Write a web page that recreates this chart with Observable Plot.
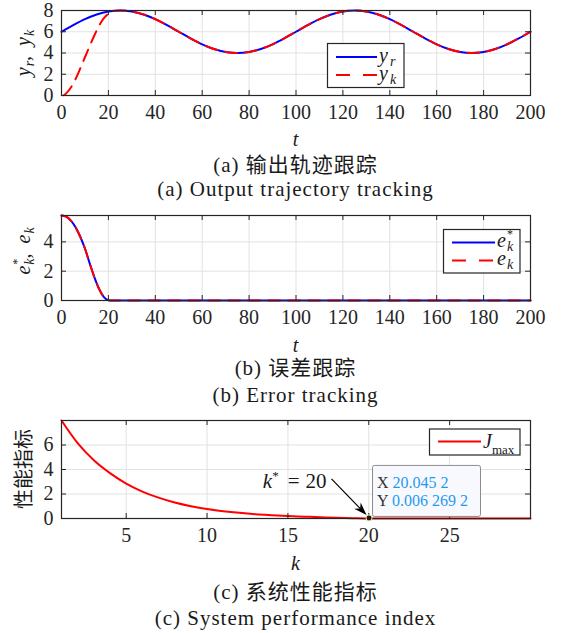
<!DOCTYPE html>
<html><head><meta charset="utf-8">
<script src="https://cdn.jsdelivr.net/npm/d3@7"></script>
<script src="https://cdn.jsdelivr.net/npm/@observablehq/plot@0.6"></script>
<style>
body{margin:0;background:#fff;}
#root{position:relative;width:562px;height:633px;overflow:hidden;}
.panel{position:absolute;left:0;}
.cap{position:absolute;left:0;width:591px;text-align:center;font-size:21px;line-height:20px;letter-spacing:1px;color:#1a1a1a;font-family:"Liberation Serif","Noto Sans CJK SC",serif;white-space:nowrap;}
</style></head><body><div id="root"></div>
<script>
// ---------- data ----------
const tRef = [0,5,10,15,20,25,30,35,40,45,50,55,60,65,70,75,80,85,90,95,100,105,110,115,120,125,130,135,140,145,150,155,160,165,170,175,180,185,190,195,200];
const yRef = [6,6.62,7.18,7.62,7.9,8,7.9,7.62,7.18,6.62,6,5.38,4.82,4.38,4.1,4,4.1,4.38,4.82,5.38,6,6.62,7.18,7.62,7.9,8,7.9,7.62,7.18,6.62,6,5.38,4.82,4.38,4.1,4,4.1,4.38,4.82,5.38,6];
const tOut = [1,2,4,6,8,10,12,14,16,18,20,22,25,30,35,40,45,50,55,60,65,70,75,80,85,90,95,100,105,110,115,120,125,130,135,140,145,150,155,160,165,170,175,180,185,190,195,200];
const yOut = [0.02,0.2,0.75,1.55,2.55,3.6,4.65,5.65,6.55,7.25,7.7,7.92,8,7.9,7.62,7.18,6.62,6,5.38,4.82,4.38,4.1,4,4.1,4.38,4.82,5.38,6,6.62,7.18,7.62,7.9,8,7.9,7.62,7.18,6.62,6,5.38,4.82,4.38,4.1,4,4.1,4.38,4.82,5.38,6];
const tErr = [0,2,4,6,8,10,12,14,16,18,20,22,25,50,75,100,125,150,175,200];
const eStar = [5.8,5.72,5.45,5.0,4.35,3.55,2.55,1.6,0.8,0.25,0.02,0,0,0,0,0,0,0,0,0];
const eK = [5.8,5.72,5.45,5.0,4.35,3.55,2.55,1.6,0.8,0.25,0.02,0,0,0,0,0,0,0,0,0];
const kIter = [1,2,3,4,5,6,7,8,9,10,11,12,13,14,15,16,17,18,19,20,21,22,23,24,25,26,27,28,29,30];
const jMax = [8,6.15,4.75,3.7,2.85,2.2,1.7,1.3,1.0,0.78,0.6,0.46,0.35,0.27,0.2,0.15,0.1,0.06,0.03,0.0063,0.005,0.004,0.0035,0.003,0.0025,0.002,0.002,0.0015,0.0015,0.001];
const tipX = 20.0452, tipY = 0.0062692;
const tipLabels = ["20.045 2", "0.006 269 2"];
const xTicksT = [0,20,40,60,80,100,120,140,160,180,200];
const yTicksA = [0,2,4,6,8];
const yTicksB = [0,2,4];
const xTicksK = [5,10,15,20,25];
const yTicksC = [0,2,4,6];
const capA = ["(a) 输出轨迹跟踪", "(a) Output trajectory tracking"];
const capB = ["(b) 误差跟踪", "(b) Error tracking"];
const capC = ["(c) 系统性能指标", "(c) System performance index"];

// ---------- helpers ----------
const NS = "http://www.w3.org/2000/svg";
function mk(tag, attrs, parent){ const e=document.createElementNS(NS,tag); for(const k in attrs) e.setAttribute(k,attrs[k]); if(parent) parent.appendChild(e); return e; }
function math(parent, x, y, parts, {size=20, anchor="start", rotate=0, fill="#1a1a1a", fam="Liberation Serif, serif"}={}) {
  const t = mk("text", {x:0, y:0, "text-anchor":anchor, "font-size":size, "font-family":fam, fill, transform:`translate(${x},${y}) rotate(${rotate})`}, parent);
  for (const p of parts) {
    const s = mk("tspan", {}, t);
    if (p.i) s.setAttribute("font-style","italic");
    if (p.fs) s.setAttribute("font-size", p.fs);
    if (p.dy) s.setAttribute("dy", p.dy);
    if (p.dx) s.setAttribute("dx", p.dx);
    if (p.fill) s.setAttribute("fill", p.fill);
    if (p.fam) s.setAttribute("font-family", p.fam);
    s.textContent = p.t;
  }
  return t;
}
const W = 562, ML = 61, MR = 32, FW = W - ML - MR;
const root = document.getElementById("root");
const INK = "#262626";

function panel({top, plotH, height, xDomain, yDomain, xTicks, yTicks, marks, overlay}) {
  const mt = 10;
  const fig = Plot.plot({
    width: W, height, marginLeft: ML, marginRight: MR, marginTop: mt, marginBottom: height - mt - plotH,
    style: {fontFamily: "Liberation Serif, serif", fontSize: "20px", color: INK, background: "transparent", overflow: "visible"},
    x: {domain: xDomain, ticks: xTicks, tickSize: 0, tickPadding: 9, label: null, tickFormat: d => String(d)},
    y: {domain: yDomain, ticks: yTicks, tickSize: 0, tickPadding: 8, label: null, tickFormat: d => String(d)},
    marks: [
      Plot.ruleX(xTicks, {stroke: "#e2e2e2", strokeWidth: 1}),
      Plot.ruleY(yTicks, {stroke: "#e2e2e2", strokeWidth: 1}),
      ...marks,
      Plot.ruleX(xTicks, {stroke: INK, insetBottom: plotH - 5}),
      Plot.ruleX(xTicks, {stroke: INK, insetTop: plotH - 5}),
      Plot.ruleY(yTicks, {stroke: INK, insetRight: FW - 5}),
      Plot.ruleY(yTicks, {stroke: INK, insetLeft: FW - 5}),
      Plot.frame({stroke: INK, strokeWidth: 1.2}),
      (index, scales, values, dims) => { const g = mk("g", {}); overlay(g, scales, dims); return g; }
    ]
  });
  fig.classList.add("panel");
  fig.style.top = top + "px";
  root.appendChild(fig);
}
function caption(lines, tops) {
  lines.forEach((s, i) => {
    const d = document.createElement("div");
    d.className = "cap"; d.style.top = tops[i] + "px"; d.textContent = s;
    root.appendChild(d);
  });
}
function legendBox(g, x, y, w, h) {
  mk("rect", {x, y, width: w, height: h, fill: "#fff", stroke: INK, "stroke-width": 1.2}, g);
}
const DASH = "12,8";

// ---------- panel (a) ----------
panel({
  top: 0, plotH: 85, height: 150,
  xDomain: [0, 200], yDomain: [0, 8], xTicks: xTicksT, yTicks: yTicksA,
  marks: [
    Plot.line(tRef.map((t, i) => ({t, v: yRef[i]})), {x: "t", y: "v", stroke: "#0000ff", strokeWidth: 2, curve: "monotone-x"}),
    Plot.line(tOut.map((t, i) => ({t, v: yOut[i]})), {x: "t", y: "v", stroke: "#ff0000", strokeWidth: 2, strokeDasharray: DASH, curve: "monotone-x"})
  ],
  overlay: (g) => {
    legendBox(g, 327.5, 43.5, 76.5, 44);
    mk("line", {x1: 336, x2: 377, y1: 57, y2: 57, stroke: "#0000ff", "stroke-width": 2}, g);
    mk("line", {x1: 336, x2: 377, y1: 75, y2: 75, stroke: "#ff0000", "stroke-width": 2, "stroke-dasharray": "14,13"}, g);
    math(g, 379, 62, [{t: "y", i: true}, {t: "r", i: true, fs: 14, dy: 4, dx: 2}]);
    math(g, 379, 80, [{t: "y", i: true}, {t: "k", i: true, fs: 14, dy: 4, dx: 2}]);
    math(g, 30, 53, [{t: "y", i: true}, {t: "r", i: true, fs: 14, dy: 4, dx: 1}, {t: ",  ", dy: -4}, {t: "y", i: true}, {t: "k", i: true, fs: 14, dy: 4, dx: 1}], {anchor: "middle", rotate: -90});
    math(g, 295.5, 146, [{t: "t", i: true}], {anchor: "middle"});
  }
});
caption(capA, [155, 179]);

// ---------- panel (b) ----------
panel({
  top: 205, plotH: 85, height: 155,
  xDomain: [0, 200], yDomain: [0, 5.8], xTicks: xTicksT, yTicks: yTicksB,
  marks: [
    Plot.line(tErr.map((t, i) => ({t, v: eStar[i]})), {x: "t", y: "v", stroke: "#0000ff", strokeWidth: 2, curve: "monotone-x"}),
    Plot.line(tErr.map((t, i) => ({t, v: eK[i]})), {x: "t", y: "v", stroke: "#ff0000", strokeWidth: 2, strokeDasharray: DASH, curve: "monotone-x"})
  ],
  overlay: (g) => {
    legendBox(g, 443.5, 24.5, 76.5, 43.5);
    mk("line", {x1: 452, x2: 495, y1: 37.5, y2: 37.5, stroke: "#0000ff", "stroke-width": 2}, g);
    mk("line", {x1: 452, x2: 495, y1: 55.5, y2: 55.5, stroke: "#ff0000", "stroke-width": 2, "stroke-dasharray": "14,13"}, g);
    math(g, 497, 42, [{t: "e", i: true}, {t: "*", fs: 12, dy: -9, dx: 1}, {t: "k", i: true, fs: 14, dy: 13, dx: -6}]);
    math(g, 497, 60, [{t: "e", i: true}, {t: "k", i: true, fs: 14, dy: 4, dx: 1}]);
    math(g, 30, 46, [{t: "e", i: true}, {t: "*", fs: 12, dy: -9, dx: 1}, {t: "k", i: true, fs: 14, dy: 13, dx: -6}, {t: ",  ", dy: -4}, {t: "e", i: true}, {t: "k", i: true, fs: 14, dy: 4, dx: 1}], {anchor: "middle", rotate: -90});
    math(g, 295.5, 147, [{t: "t", i: true}], {anchor: "middle"});
  }
});
caption(capB, [358, 385]);

// ---------- panel (c) ----------
panel({
  top: 410, plotH: 98, height: 170,
  xDomain: [1, 30], yDomain: [0, 8], xTicks: xTicksK, yTicks: yTicksC,
  marks: [
    Plot.line(kIter.map((k, i) => ({k, v: jMax[i]})), {x: "k", y: "v", stroke: "#ff0000", strokeWidth: 2, curve: "monotone-x"})
  ],
  overlay: (g, scales) => {
    legendBox(g, 429.5, 19, 90.5, 26);
    mk("line", {x1: 438, x2: 481, y1: 31.5, y2: 31.5, stroke: "#ff0000", "stroke-width": 2}, g);
    math(g, 483, 38, [{t: "J", i: true}, {t: "max", fs: 13, dy: 6}]);
    mk("text", {x: 0, y: 0, transform: "translate(31,59) rotate(-90)", "text-anchor": "middle", "font-size": 20, "font-family": "Noto Sans CJK SC", fill: "#1a1a1a"}, g).textContent = "性能指标";
    math(g, 295.5, 160, [{t: "k", i: true}], {anchor: "middle"});
    // data tip
    const px = scales.x(tipX), py = scales.y(tipY);
    const ex = px - 2.5, ey = py - 3;
    const sx = ex - 35, sy = ey - 36;
    mk("line", {x1: sx, y1: sy, x2: ex - 6, y2: ey - 6, stroke: "#000", "stroke-width": 1.2}, g);
    const ang = Math.atan2(ey - sy, ex - sx);
    const hl = 13, hw = 4.5;
    const bx = ex - hl * Math.cos(ang), by = ey - hl * Math.sin(ang);
    const nx = -Math.sin(ang), ny = Math.cos(ang);
    const mx = ex - 0.7 * hl * Math.cos(ang), my = ey - 0.7 * hl * Math.sin(ang);
    mk("path", {d: `M${ex},${ey}L${bx + nx * hw},${by + ny * hw}L${mx},${my}L${bx - nx * hw},${by - ny * hw}Z`, fill: "#000"}, g);
    math(g, sx - 5, sy + 9, [{t: "k", i: true}, {t: "*", fs: 13, dy: -8}, {t: "=", dy: 8, dx: 9}, {t: "20", dx: 6}], {anchor: "end", size: 21});
    mk("rect", {x: px + 3.5, y: py - 52.5, width: 108, height: 51, rx: 2, fill: "#f8f8ff", stroke: "#8c8c8c", "stroke-width": 1}, g);
    math(g, px + 8, py - 30, [{t: "X ", fill: "#333"}, {t: tipLabels[0], fill: "#1e9bf0"}], {size: 16});
    math(g, px + 8, py - 12, [{t: "Y ", fill: "#333"}, {t: tipLabels[1], fill: "#1e9bf0"}], {size: 16});
    mk("circle", {cx: px, cy: py, r: 3, fill: "#1a1a1a", stroke: "#f0e6a0", "stroke-width": 1}, g);
  }
});
caption(capC, [582, 608]);
</script></body></html>
